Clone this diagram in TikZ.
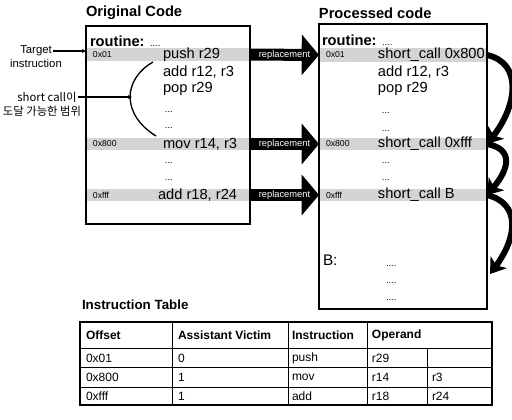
\documentclass[tikz,border=0pt]{standalone}
\usepackage{fontspec}
\setmainfont{Liberation Sans}
\newfontfamily\krfont{Noto Sans CJK KR}
\usetikzlibrary{positioning, arrows.meta, fit}

\begin{document}
\begin{tikzpicture}[x=0.75pt, y=-0.75pt,
  every node/.style={inner sep=0pt, outer sep=0pt},
  codebox/.style={draw, line width=1pt, inner sep=0pt},
  band/.style={fill=black!17, inner sep=0pt},
  codetitle/.style={anchor=west, font=\fontsize{11}{13}\selectfont\bfseries},
  hexlbl/.style={anchor=west, font=\fontsize{6.5}{7}\selectfont},
  codeln/.style={anchor=west, font=\fontsize{11}{13}\selectfont},
  dotln/.style={anchor=base west, font=\fontsize{7}{8}\selectfont},
  note/.style={inner sep=1pt, font=\fontsize{8.5}{10}\selectfont},
  krnote/.style={inner sep=1pt, font=\krfont\fontsize{8.5}{10}\selectfont},
  repl/.style={line width=9pt, -{Triangle[length=13pt,width=30pt]}},
  repltxt/.style={text=white, font=\fontsize{7}{8}\selectfont},
  jump/.style={line width=4.5pt, -{Stealth[length=11pt,width=15pt,inset=3pt]}},
  cell/.style={anchor=west, font=\fontsize{9}{11}\selectfont},
  headcell/.style={anchor=west, font=\fontsize{9}{11}\selectfont\bfseries}
]
\useasboundingbox (0,0) rectangle (512,419);

% Original code
\node[codetitle] (otitle) at (86,13) {Original Code};
\node[band, fit={(86,48) (250,61)}] (o1) {};
\node[band, fit={(86,138) (250,150)}] (o2) {};
\node[band, fit={(86,189) (250,201)}] (o3) {};
\node[codebox, fit={(86,26) (250,224)}] (orig) {};

\node[codeln] (oroutine) at (90,41) {\textbf{routine:} {\fontsize{7}{8}\selectfont....}};
\node[hexlbl] at (93,55) {0x01};
\node[codeln] (opush) at (163,55) {push r29};
\node[codeln] (oadd) at (163,72) {add r12, r3};
\node[codeln] (opop) at (163,89) {pop r29};
\node[dotln] at (165,112) {...};
\node[dotln] at (165,128) {...};
\node[hexlbl] at (93,144) {0x800};
\node[codeln] (omov) at (163,144) {mov r14, r3};
\node[dotln] at (165,163) {...};
\node[dotln] at (165,180) {...};
\node[hexlbl] at (93,195) {0xfff};
\node[codeln] (oadd2) at (158,195) {add r18, r24};

% labels on the left
\node[note] (tgt) at (36,51) {Target};
\node[note] (tgtb) at (36,63) {instruction};
\draw[line width=0.8pt, -{Stealth[length=3pt,width=3pt]}] (tgt.east) -- (tgt.east -| orig.west);

\node[krnote] (sc) at (47,97) {short call이};
\node[krnote] (scb) at (42,111) {도달 가능한 범위};
\coordinate (rng) at (132,97);
\draw[line width=0.8pt, -{Stealth[length=3pt,width=3pt]}] (sc.east) -- (rng);
\draw[line width=1pt] (153,62) .. controls (122,80) and (122,115) .. (156,136);

% Processed code
\node[codetitle] (ptitle) at (319,13) {Processed code};
\node[band, fit={(319,48) (487,62)}] (p1) {};
\node[band, fit={(319,138) (487,150)}] (p2) {};
\node[band, fit={(319,189) (487,201)}] (p3) {};
\node[codebox, fit={(319,24) (487,309)}] (proc) {};

\node[codeln] (proutine) at (322,40) {\textbf{routine:} {\fontsize{7}{8}\selectfont....}};
\node[hexlbl] at (326,55) {0x01};
\node[codeln] (pcall1) at (378,55) {short\_call 0x800};
\node[codeln] (padd) at (378,72) {add r12, r3};
\node[codeln] (ppop) at (378,89) {pop r29};
\node[dotln] at (382,113) {...};
\node[dotln] at (382,131) {...};
\node[hexlbl] at (326,144) {0x800};
\node[codeln] (pcall2) at (378,144) {short\_call 0xfff};
\node[dotln] at (382,163) {...};
\node[dotln] at (382,180) {...};
\node[hexlbl] at (326,195) {0xfff};
\node[codeln] (pcall3) at (378,195) {short\_call B};
\node[codeln, font=\fontsize{11.5}{13}\selectfont] (blbl) at (323,260) {B:};
\node[dotln] at (386,266) {....};
\node[dotln] at (386,283) {....};
\node[dotln] at (386,300) {....};
\coordinate (pB) at (490,274);

% replacement arrows
\draw[repl] (o1.east) -- node[repltxt]{replacement} (p1.west);
\draw[repl] (o2.east) -- node[repltxt]{replacement} (p2.west);
\draw[repl] (o3.east) -- node[repltxt]{replacement} (p3.west);

% short call jumps
\draw[jump] (p1.east) .. controls +(36,8) and +(30,-38) .. (p2.east);
\draw[jump] (p2.east) .. controls +(27,5) and +(22,-26) .. (p3.east);
\draw[jump] (p3.east) .. controls +(33,8) and +(28,-38) .. (pB);

% Instruction table
\node[anchor=west, font=\fontsize{10}{12}\selectfont\bfseries] (ttitle) at (82,305) {Instruction Table};
\draw[line width=0.5pt] (80,348) -- (492,348);
\draw[line width=0.5pt] (80,367) -- (492,367);
\draw[line width=0.5pt] (80,387) -- (492,387);
\draw[line width=0.5pt] (172,322) -- (172,405);
\draw[line width=0.5pt] (288,322) -- (288,405);
\draw[line width=0.5pt] (367,322) -- (367,405);
\draw[line width=0.5pt] (427,348) -- (427,405);
\draw[line width=1.3pt] (80,322) rectangle (492,405);

\node[headcell] at (86,335) {Offset};
\node[headcell] at (178,335) {Assistant Victim};
\node[headcell] at (292,335) {Instruction};
\node[headcell] at (372,335) {Operand};

\node[cell] at (86,358) {0x01};
\node[cell] at (178,358) {0};
\node[cell] at (292,358) {push};
\node[cell] at (372,358) {r29};

\node[cell] at (86,377) {0x800};
\node[cell] at (178,377) {1};
\node[cell] at (292,377) {mov};
\node[cell] at (372,377) {r14};
\node[cell] at (432,377) {r3};

\node[cell] at (86,396) {0xfff};
\node[cell] at (178,396) {1};
\node[cell] at (292,396) {add};
\node[cell] at (372,396) {r18};
\node[cell] at (432,396) {r24};

\end{tikzpicture}
\end{document}
